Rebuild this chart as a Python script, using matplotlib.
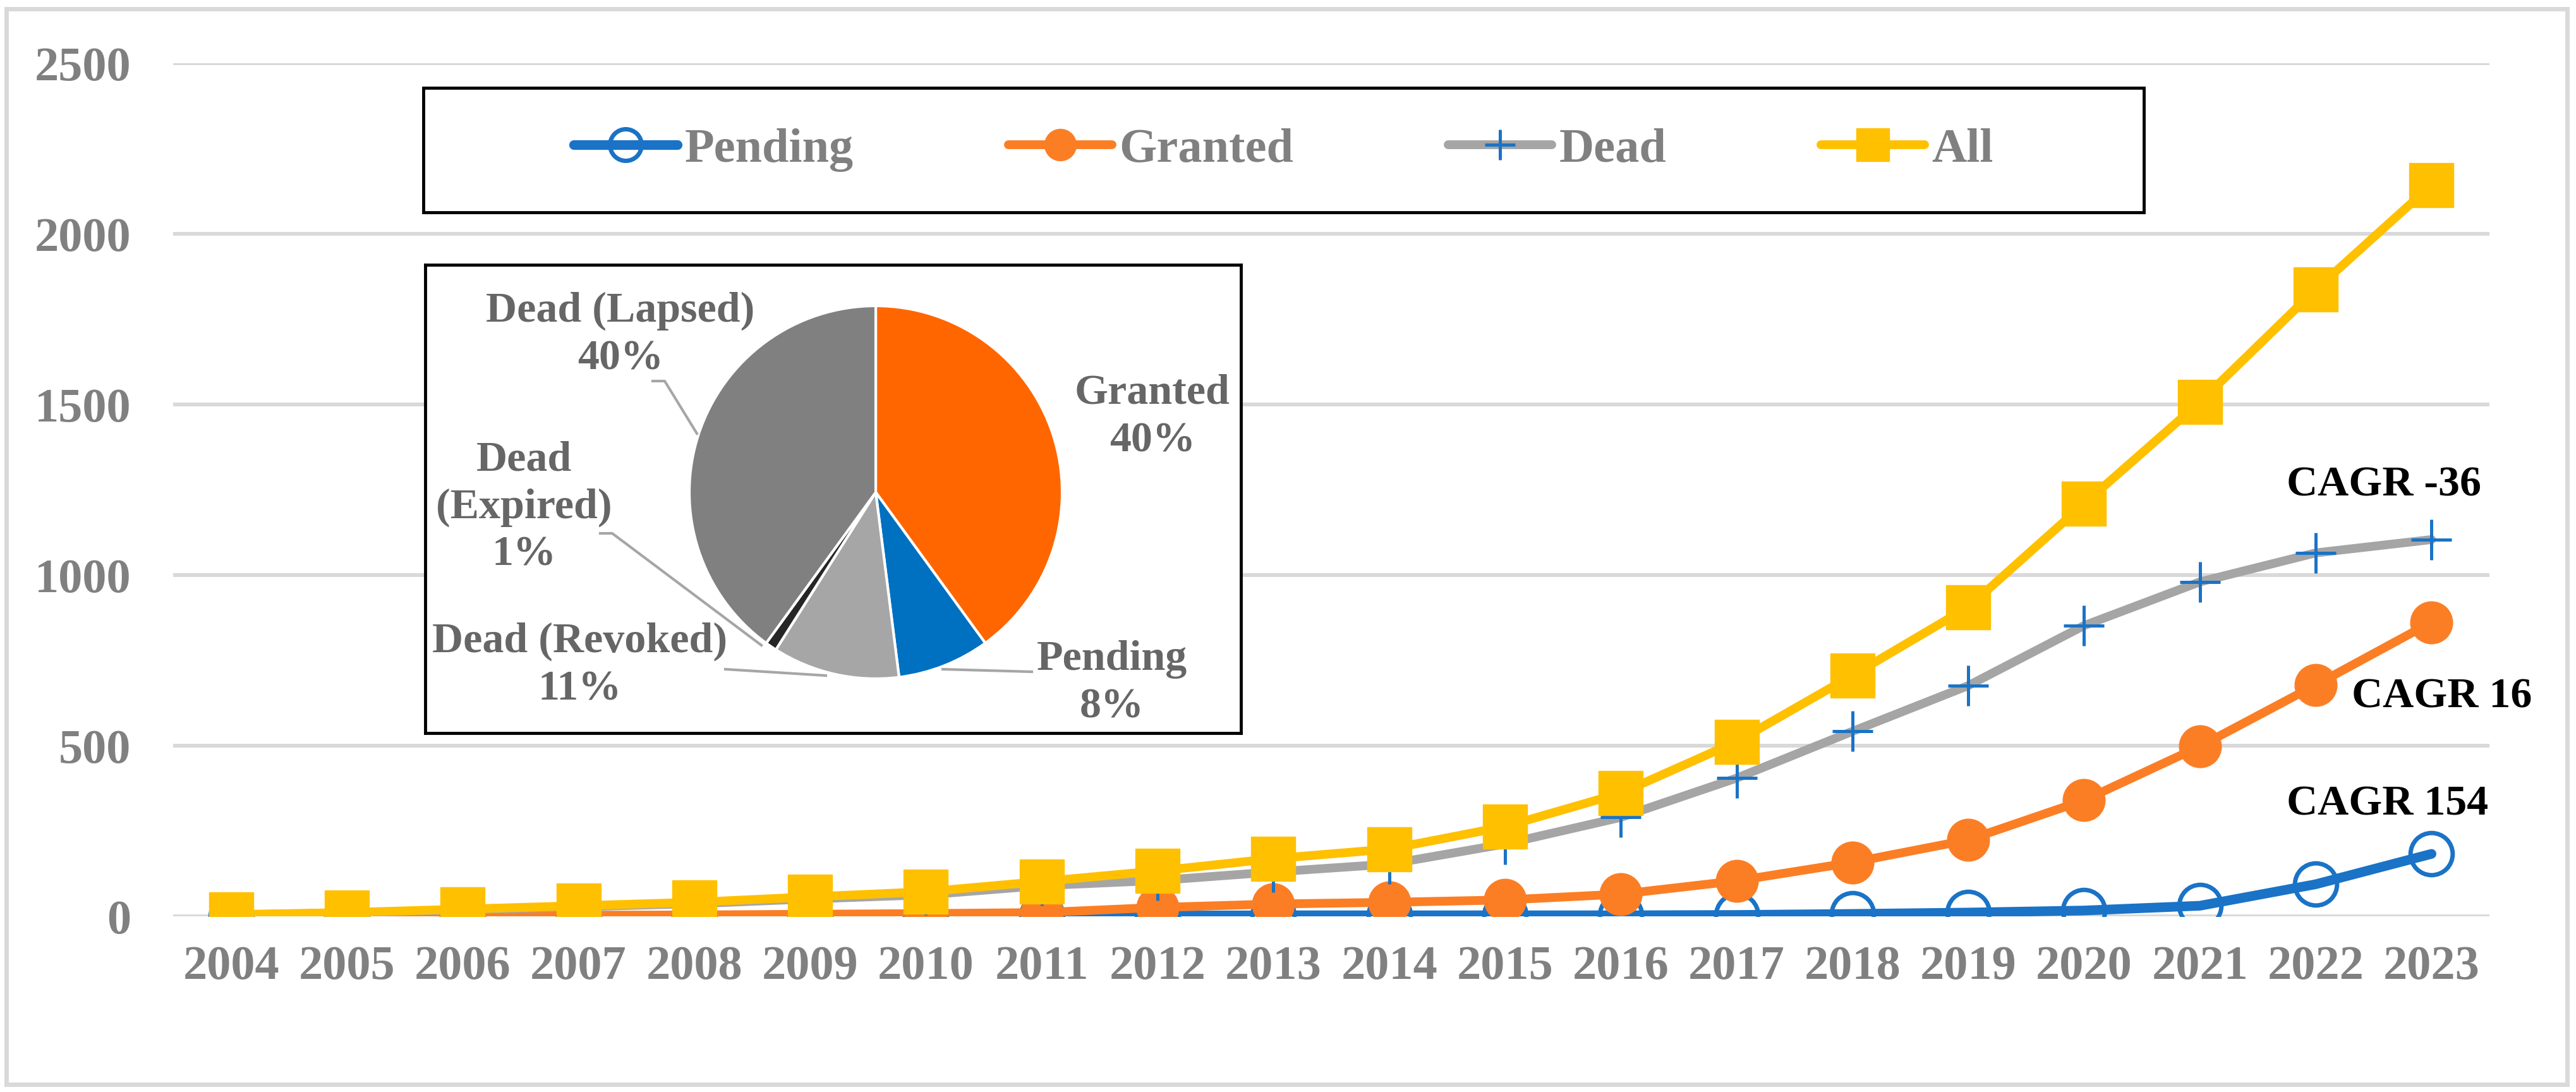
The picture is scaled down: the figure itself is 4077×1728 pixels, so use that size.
import numpy as np
import matplotlib
matplotlib.use('Agg')
import matplotlib.pyplot as plt
from matplotlib.patches import Rectangle

plt.rcParams['font.family'] = ['Liberation Serif', 'DejaVu Serif']
plt.rcParams['font.weight'] = 'bold'

# line chart data
years = [str(y) for y in range(2004, 2024)]
pending = [0, 0, 0, 1, 1, 1, 1, 1, 2, 3, 3, 3, 3, 4, 7, 11, 17, 31, 94, 183]
granted = [1, 1, 2, 3, 4, 6, 8, 11, 26, 36, 41, 48, 65, 104, 158, 224, 340, 498, 678, 862]
dead = [4, 10, 19, 28, 37, 51, 63, 90, 105, 130, 153, 212, 290, 405, 542, 676, 852, 980, 1065, 1104]
all_apps = [5, 11, 21, 31, 41, 57, 72, 102, 133, 169, 197, 263, 361, 512, 706, 906, 1209, 1507, 1837, 2143]

# pie data
pie_names = ['Granted', 'Pending', 'Dead (Revoked)', 'Dead\n(Expired)', 'Dead (Lapsed)']
pie_share = [40, 8, 11, 1, 40]
pie_colors = ['#FF6600', '#0070C0', '#A6A6A6', '#262626', '#808080']

# CAGR notes: text, x position (category index), y value
cagr_text = ['CAGR 154', 'CAGR 16', 'CAGR -36']
cagr_x = [18.62, 19.09, 18.59]
cagr_y = [328, 643, 1263]

W, H = 4077, 1728
blue = '#1A73C6'
orange = '#FB7E25'
gray = '#A5A5A5'
yellow = '#FFC000'
txt_gray = '#808080'


def fig_box(x0, y0, x1, y1):
    # pixel box (y down) -> figure fraction [l, b, w, h]
    return [x0 / W, 1 - y1 / H, (x1 - x0) / W, (y1 - y0) / H]


fig = plt.figure(figsize=(W / 100, H / 100), dpi=100)
fig.patch.set_facecolor('white')
fig.patches.append(Rectangle((10 / W, 1 - 1716 / H), 4053 / W, 1702 / H,
                             transform=fig.transFigure, fill=False,
                             ec='#D9D9D9', lw=5))

ax = fig.add_axes(fig_box(274, 100, 3940, 1450))
x = np.arange(len(years))

ax.plot(x, pending, color=blue, lw=11, marker='o', ms=48, mfc='none',
        mec=blue, mew=5, solid_capstyle='round', label='Pending')
ax.plot(x, granted, color=orange, lw=10, marker='o', ms=48, mfc=orange,
        mec=orange, solid_capstyle='round', label='Granted')
ax.plot(x, dead, color=gray, lw=10, marker='+', ms=46, mec=blue, mew=3.6,
        solid_capstyle='round', label='Dead')
ax.plot(x, all_apps, color=yellow, lw=10, marker='s', ms=50, mfc=yellow,
        mec=yellow, solid_capstyle='round', label='All')

ax.set_xlim(-0.5, len(years) - 0.5)
ax.set_ylim(0, 2500)
ax.set_xticks(x)
ax.set_xticklabels(years)
ax.set_yticks(range(0, 2501, 500))
ax.yaxis.grid(True, color='#D9D9D9', lw=4.3)
ax.set_axisbelow(True)
for s in ax.spines.values():
    s.set_visible(False)
ax.tick_params(axis='both', length=0, labelsize=55, labelcolor=txt_gray)
ax.tick_params(axis='y', pad=48)
ax.tick_params(axis='x', pad=33)

for t, cx, cy in zip(cagr_text, cagr_x, cagr_y):
    ax.text(cx, cy, t, ha='center', va='center', fontsize=49, color='black')

# legend in its own black frame
fig.patches.append(Rectangle((670 / W, 1 - 336 / H), 2723 / W, 197 / H,
                             transform=fig.transFigure, fill=False,
                             ec='black', lw=3.5))
handles, labels = ax.get_legend_handles_labels()
fig.legend(handles, labels, loc='center',
           bbox_to_anchor=((670 + 3393) / 2 / W, 1 - 237 / H),
           ncol=4, frameon=False, fontsize=55, labelcolor=txt_gray,
           handlelength=2.15, handletextpad=0.15, columnspacing=3.2,
           markerscale=0.75)

# inset pie, axes in pixel units (y up)
ax2 = fig.add_axes(fig_box(673, 419, 1964, 1160))
ax2.set_facecolor('white')
ax2.pie(pie_share, colors=pie_colors, startangle=90, counterclock=False,
        center=(1386, H - 779), radius=295, frame=True,
        wedgeprops=dict(edgecolor='white', linewidth=3))
ax2.set_xlim(673, 1964)
ax2.set_ylim(H - 1160, H - 419)
ax2.set_aspect('auto')
ax2.set_xticks([])
ax2.set_yticks([])
for s in ax2.spines.values():
    s.set_color('black')
    s.set_linewidth(3.5)

label_pos = [(1824, 660), (1760, 1081), (918, 1053), (829, 803), (982, 530)]
for name, share, (lx, ly) in zip(pie_names, pie_share, label_pos):
    ax2.text(lx, H - ly, f'{name}\n{share}%', ha='center', va='center',
             fontsize=49, color='#666666', linespacing=1.3)

leaders = [
    [(1033, 603), (1052, 603), (1103, 686)],
    [(950, 844), (969, 844), (1205, 1021)],
    [(1148, 1059), (1307, 1069)],
    [(1492, 1059), (1633, 1063)],
]
for pts in leaders:
    lx = [p[0] for p in pts]
    ly = [H - p[1] for p in pts]
    ax2.plot(lx, ly, color='#A6A6A6', lw=3)

fig.savefig('out.png', dpi=100)
